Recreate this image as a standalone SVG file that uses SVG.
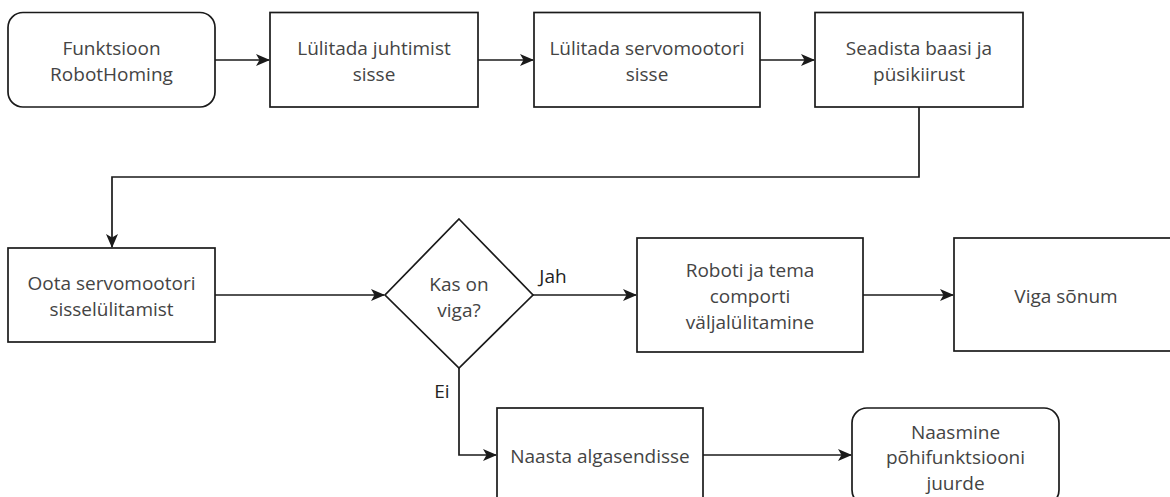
<svg xmlns="http://www.w3.org/2000/svg" width="1170" height="497" viewBox="0 0 1170 497">
<defs>
<style>
.box{fill:#ffffff;stroke:#1a1a1a;stroke-width:1.7}
.t{font-family:"Open Sans","Noto Sans",sans-serif;font-size:19px;fill:#444444;text-anchor:middle;dominant-baseline:central}
.lbl{font-family:"Open Sans","Noto Sans",sans-serif;font-size:19px;fill:#222222;text-anchor:middle;dominant-baseline:central}
.c{fill:none;stroke:#1a1a1a;stroke-width:1.7}
</style>
<marker id="arr" viewBox="0 0 14 12" refX="13" refY="6" markerWidth="14" markerHeight="12" markerUnits="userSpaceOnUse" orient="auto">
<path d="M0,0 L14,6 L0,12 L3.5,6 Z" fill="#1a1a1a"/>
</marker>
</defs>
<rect width="1170" height="497" fill="#ffffff"/>
<g id="connectors">
<path class="c" d="M215,60 L269,60" marker-end="url(#arr)"/>
<path class="c" d="M478,60 L533,60" marker-end="url(#arr)"/>
<path class="c" d="M760,60 L814,60" marker-end="url(#arr)"/>
<path class="c" d="M919,107 L919,177 L112,177 L112,247" marker-end="url(#arr)"/>
<path class="c" d="M215,295 L384,295" marker-end="url(#arr)"/>
<path class="c" d="M533,295 L636,295" marker-end="url(#arr)"/>
<path class="c" d="M863,295 L953,295" marker-end="url(#arr)"/>
<path class="c" d="M459,368 L459,455 L496,455" marker-end="url(#arr)"/>
<path class="c" d="M703,455 L851,455" marker-end="url(#arr)"/>
<text class="lbl" x="553" y="276">Jah</text>
<text class="lbl" x="442" y="391">Ei</text>
</g>
<g id="n1">
<rect class="box" x="8" y="12.5" width="207" height="94.5" rx="15" ry="15"/>
<text class="t" x="111.5" y="48">Funktsioon</text>
<text class="t" x="111.5" y="74">RobotHoming</text>
</g>
<g id="n2">
<rect class="box" x="270" y="12.5" width="208" height="94.5"/>
<text class="t" x="374" y="48">Lülitada juhtimist</text>
<text class="t" x="374" y="74">sisse</text>
</g>
<g id="n3">
<rect class="box" x="534" y="12.5" width="226" height="94.5"/>
<text class="t" x="647" y="48">Lülitada servomootori</text>
<text class="t" x="647" y="74">sisse</text>
</g>
<g id="n4">
<rect class="box" x="815" y="12.5" width="208" height="94.5"/>
<text class="t" x="919" y="48">Seadista baasi ja</text>
<text class="t" x="919" y="74">püsikiirust</text>
</g>
<g id="n5">
<rect class="box" x="8" y="248" width="207" height="94"/>
<text class="t" x="111.5" y="283">Oota servomootori</text>
<text class="t" x="111.5" y="309">sisselülitamist</text>
</g>
<g id="n6">
<path class="box" d="M459,219 L533,295 L459,368 L385,295 Z"/>
<text class="t" x="459" y="284">Kas on</text>
<text class="t" x="459" y="310">viga?</text>
</g>
<g id="n7">
<rect class="box" x="637" y="238" width="226" height="114"/>
<text class="t" x="750" y="270">Roboti ja tema</text>
<text class="t" x="750" y="296">comporti</text>
<text class="t" x="750" y="322">väljalülitamine</text>
</g>
<g id="n8">
<rect class="box" x="954" y="238" width="224" height="113"/>
<text class="t" x="1066" y="296">Viga sõnum</text>
</g>
<g id="n9">
<rect class="box" x="497" y="408" width="206" height="95"/>
<text class="t" x="600" y="456">Naasta algasendisse</text>
</g>
<g id="n10">
<rect class="box" x="852" y="408" width="207" height="97" rx="15" ry="15"/>
<text class="t" x="955.5" y="432">Naasmine</text>
<text class="t" x="955.5" y="457">põhifunktsiooni</text>
<text class="t" x="955.5" y="483">juurde</text>
</g>
</svg>
